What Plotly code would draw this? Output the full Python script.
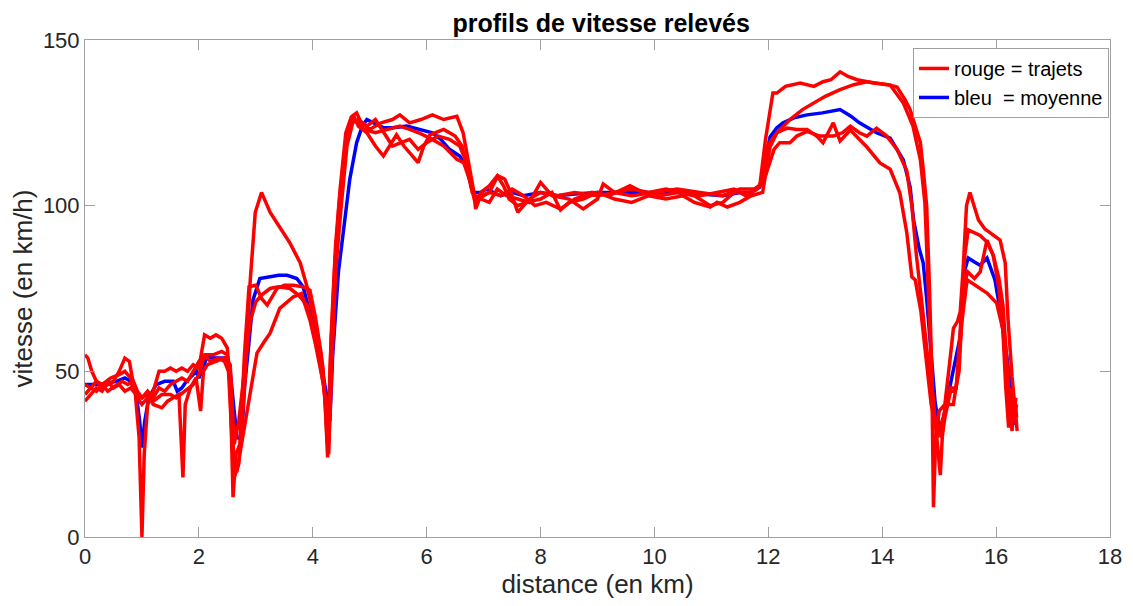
import plotly.graph_objects as go

# ---------------- data ----------------
r1_x = [0.00,0.05,0.12,0.20,0.30,0.40,0.50,0.60,0.70,0.78,0.85,0.92,1.00,1.10,1.20,1.35,1.50,1.60,1.75,1.90,
        2.00,2.10,2.20,2.35,2.45,2.52,2.58,2.62,2.70,2.81,2.90,2.99,3.10,3.25,3.42,3.60,3.78,3.90,4.07,4.18,
        4.25,4.28,4.33,4.40,4.50,4.60,4.69,4.77,4.85,5.00,5.20,5.40,5.53,5.70,5.90,6.10,6.30,6.53,6.64,6.75,
        6.82,6.86,6.95,7.10,7.25,7.37,7.50,7.60,7.80,8.00,8.30,8.60,9.00,9.30,9.60,10.00,10.40,10.80,11.20,11.50,
        11.75,11.85,11.95,12.08,12.15,12.30,12.56,12.80,12.96,13.10,13.26,13.40,13.56,13.85,14.10,14.26,14.40,14.49,14.58,14.67,
        14.72,14.78,14.83,14.87,14.90,14.94,15.00,15.10,15.20,15.25,15.32,15.37,15.42,15.48,15.54,15.62,15.69,15.80,15.90,16.07,
        16.16,16.21,16.28,16.32,16.37]
r1_y = [55,54,50,47,45,46,47,50,54,53,46,42,40,42,41,43,43,42,44,46,
        49,55,53,54,53,50,30,18,22,47,77,98,104,98,93.5,88.7,82.7,75.5,62.5,51,
        30,25,55,85,104,120,127,128,125,123,125,126,127.4,125,126,127.4,126,127,122,112,
        105,99,103,104,109,108,103,98,102,104,103,104,103,104,103,104,105,104,103,105,
        105,106,120,134,134,136,137,136,137.4,138,140.4,139,138,137,136.5,135.8,132,129,124,119,
        111,100,75,50,9,30,38,40,55,63,65,68,80.6,100,104,100,95.7,93,91.8,89.6,
        82.7,65.5,48.3,40,32]

r2_x = [0.00,0.10,0.20,0.30,0.45,0.60,0.70,0.80,0.88,0.95,1.00,1.04,1.10,1.20,1.30,1.40,1.50,1.60,1.70,1.80,
        1.90,2.00,2.10,2.20,2.30,2.40,2.50,2.55,2.60,2.65,2.72,2.80,2.88,3.00,3.10,3.20,3.37,3.50,3.66,3.83,
        3.95,4.05,4.15,4.22,4.26,4.30,4.38,4.46,4.55,4.65,4.72,4.80,4.95,5.10,5.24,5.35,5.47,5.60,5.75,5.85,
        5.95,6.06,6.30,6.50,6.62,6.72,6.80,6.90,7.10,7.30,7.50,7.70,7.90,8.10,8.35,8.60,8.90,9.20,9.57,9.80,
        10.10,10.40,10.70,10.98,11.20,11.40,11.70,11.90,11.97,12.15,12.38,12.60,12.79,13.00,13.26,13.50,13.73,13.95,14.14,14.37,
        14.54,14.67,14.75,14.82,14.88,14.93,15.02,15.07,15.13,15.20,15.30,15.38,15.45,15.51,15.60,15.72,15.84,15.95,16.05,16.12,
        16.18,16.24,16.30,16.36]
r2_y = [46,45,47,46,48,49,50,48,44,30,0,25,40,44,50,50,51,50,51,50,
        52,51,61,60,61,60,57,45,12,25,28,55,75.5,76,72,70,75,76,76,75.5,
        74.5,66,55,40,24,50,80,100,115,125,127,124,122,118,115,118,121.4,118,115,113,
        118,121.4,123,121,118,110,104,102,104,103,105,103,100,101,99,102,104,103,106,104,
        103,104,103,100,101,104,104,107,117.7,122,126,129,131,133,135,136.5,137.4,137,136.4,131,
        124,113.8,100.8,70,45,35,18.7,35,42,45,45,65,85,92.7,92,91,89,85,78,70,
        55,40,35,40]

r3_x = [0.00,0.10,0.20,0.30,0.40,0.55,0.65,0.75,0.85,0.92,1.00,1.10,1.20,1.35,1.45,1.55,1.65,1.72,1.76,1.85,
        1.95,2.03,2.08,2.15,2.30,2.45,2.55,2.62,2.70,2.78,2.90,3.00,3.10,3.25,3.40,3.60,3.75,3.90,4.05,4.15,
        4.22,4.27,4.32,4.40,4.48,4.58,4.68,4.78,4.90,5.10,5.30,5.53,5.70,5.86,6.10,6.30,6.53,6.65,6.75,6.85,
        6.95,7.10,7.24,7.40,7.60,7.80,8.00,8.20,8.50,8.75,9.00,9.10,9.30,9.60,9.90,10.20,10.50,10.80,11.10,11.40,
        11.60,11.80,11.95,12.10,12.20,12.38,12.50,12.68,12.90,13.14,13.30,13.44,13.60,13.73,13.90,14.08,14.26,14.43,14.52,14.60,
        14.70,14.80,14.90,14.97,15.05,15.15,15.25,15.32,15.40,15.49,15.66,15.84,16.01,16.12,16.18,16.24,16.28,16.33,16.36]
r3_y = [43,45,44,46,44,46,47,46,47,44,42,43,40,39,41,42,43,18,40,45,
        48,38,50,52,53,54,52,28,35,48,65,71,73,75,75.5,75,73,70,60,50,
        42,25,60,88,105,122,127,125,123,122,123,124,123,122,120,118,114,113,108,103,
        102,101,105,103,102,101,107,103,102,99,102,106.5,104,105,104,105,104,103,104,105,
        103,105,109,117,119,119,121,122.4,121,121,122,124,122,121,123.4,121,117,110.6,100,85,
        70,55,38,30,35,40,40,48,65,77.6,75.5,73.6,70.6,62.5,50,38,32,42,36]

r4_x = [0.00,0.10,0.20,0.30,0.40,0.50,0.60,0.70,0.80,0.90,1.00,1.10,1.20,1.30,1.40,1.50,1.60,1.70,1.80,1.90,
        2.00,2.10,2.25,2.40,2.50,2.55,2.62,2.67,2.75,2.84,2.95,3.02,3.15,3.25,3.42,3.55,3.66,3.80,3.95,4.05,
        4.13,4.20,4.25,4.28,4.32,4.40,4.50,4.60,4.70,4.80,4.95,5.10,5.25,5.40,5.55,5.70,5.85,6.00,6.20,6.40,
        6.58,6.70,6.78,6.85,6.95,7.10,7.24,7.35,7.45,7.60,7.75,8.00,8.20,8.35,8.50,8.75,9.00,9.30,9.60,9.90,
        10.20,10.50,10.70,10.98,11.10,11.28,11.50,11.70,11.90,12.03,12.15,12.33,12.50,12.68,12.85,12.96,13.14,13.26,13.44,13.60,
        13.73,13.96,14.14,14.31,14.43,14.52,14.58,14.68,14.78,14.86,14.95,15.05,15.10,15.20,15.28,15.35,15.42,15.50,15.62,15.72,
        15.84,15.95,16.05,16.12,16.17,16.22,16.27,16.30,16.35]
r4_y = [41,43,45,44,47,45,46,44,45,43,42,44,42,45,44,46,47,48,47,50,
        53,55,55,56,55,50,20,20,28,37.5,48,55.5,59,61.5,69,71,72.5,73.5,65.5,58,
        51,45,35,28,45,80,100,118,125,126,124,126,122,118,119,120,117,119,121,120,
        118,113,106,101,104,106,109,106,102,100,101,102,104,98.7,101,102,104,102,101,103,
        102,103,101,99.6,101,99.6,101,103,104,117.7,122,123.4,123,123,121,119,125,119.5,122.8,120,
        117.7,112.9,111,103.8,92,78.5,77.6,68,52.5,40,33,30,36,44,44,50,75,80,78,80,
        89.6,85,75,62,45,33,45,38,42]

mean_x = [0.00,0.10,0.25,0.40,0.55,0.70,0.80,0.90,0.96,1.00,1.05,1.12,1.25,1.40,1.55,1.62,1.70,1.78,1.90,1.96,
          2.00,2.05,2.14,2.30,2.46,2.55,2.62,2.67,2.75,2.80,2.87,2.95,3.07,3.25,3.40,3.55,3.72,3.83,3.95,4.07,
          4.17,4.25,4.30,4.35,4.45,4.53,4.65,4.77,4.87,4.95,5.05,5.12,5.25,5.40,5.65,5.85,6.10,6.25,6.40,6.58,
          6.70,6.82,6.95,7.05,7.30,7.50,7.70,8.00,8.30,8.60,9.00,9.30,9.60,10.00,10.40,10.80,11.20,11.50,11.70,11.85,
          11.95,12.03,12.15,12.26,12.45,12.68,12.95,13.26,13.45,13.60,13.75,13.90,14.14,14.30,14.37,14.49,14.55,14.65,14.72,14.78,
          14.84,14.93,15.02,15.13,15.25,15.37,15.45,15.51,15.62,15.72,15.84,15.98,16.07,16.19,16.28,16.33,16.38]
mean_y = [46,46,46,46.5,47,48,47,43,35,27,35,42,46,47,47,44,45,47,49,50,
          48,50,54.3,54,54,50,38,30,29.5,45,57,71.5,78,78.5,79,79,78,75.5,68,60,
          50,42,35,55,80,91.6,108,119,124,126,125,124.5,123.5,123.5,124,123,122,120,117,115,
          112,104,104,105,103,104,103,104,103,103.5,104,104,104,104,104,103.5,103,104,104,105.6,
          114,120.7,123.5,125,126.5,127.4,128,129,127,125,123.5,122,120.4,116,113.8,105.6,95.7,87,82.7,72,
          60.4,40.4,31.4,40.4,50.4,60.4,80.6,84.2,83,82,84.2,77.6,68.5,54.3,40.4,34.4,34.7]

x_ticks = [0, 2, 4, 6, 8, 10, 12, 14, 16, 18]
y_ticks = [0, 50, 100, 150]

# ---------------- figure ----------------
FONT = "Liberation Sans, Arial, Helvetica, sans-serif"
RED = "#ff0000"
BLUE = "#0000ff"
AXC = "#a0a0a0"
TXT = "#262626"

fig = go.Figure()

fig.add_trace(go.Scatter(x=mean_x, y=mean_y, mode="lines", name="bleu  = moyenne",
                         line=dict(color=BLUE, width=3.5), legendrank=2))
red_sets = [(r1_x, r1_y), (r2_x, r2_y), (r3_x, r3_y), (r4_x, r4_y)]
for i, (xs, ys) in enumerate(red_sets):
    fig.add_trace(go.Scatter(x=xs, y=ys, mode="lines", name="rouge = trajets",
                             line=dict(color=RED, width=3.5),
                             showlegend=(i == 0), legendrank=1))

# page body has an 8px margin: figure is sized/margined so the plot box lands at 85..1110 x 40..537
fig.update_layout(
    width=1125, height=598,
    margin=dict(l=77, r=23, t=32, b=69),
    paper_bgcolor="white", plot_bgcolor="white",
    font=dict(family=FONT, size=22, color=TXT),
    title=dict(text="<b>profils de vitesse relevés</b>", x=0.5273, xanchor="center",
               y=0.975, yanchor="middle", font=dict(family=FONT, size=25, color="#000000")),
    showlegend=True,
    legend=dict(x=0.999, xanchor="right", y=0.984, yanchor="top",
                bgcolor="white", bordercolor=AXC, borderwidth=1,
                font=dict(family=FONT, size=20, color="#000000"),
                tracegroupgap=0, itemwidth=30),
)
fig.update_xaxes(range=[0, 18], tickvals=x_ticks, ticktext=[str(v) for v in x_ticks],
                 ticks="inside", ticklen=10, tickcolor=AXC, tickwidth=1,
                 showline=True, linecolor=AXC, linewidth=1, mirror="ticks",
                 showgrid=False, zeroline=False,
                 tickfont=dict(family=FONT, size=22, color=TXT),
                 title=dict(text="distance (en km)", font=dict(family=FONT, size=26, color=TXT), standoff=6))
fig.update_yaxes(range=[0, 150], tickvals=y_ticks, ticktext=[str(v) for v in y_ticks],
                 ticks="inside", ticklen=10, tickcolor=AXC, tickwidth=1,
                 showline=True, linecolor=AXC, linewidth=1, mirror="ticks",
                 showgrid=False, zeroline=False,
                 tickfont=dict(family=FONT, size=22, color=TXT),
                 title=dict(text="vitesse (en km/h)", font=dict(family=FONT, size=26, color=TXT), standoff=4))

fig.write_html("out.html")
